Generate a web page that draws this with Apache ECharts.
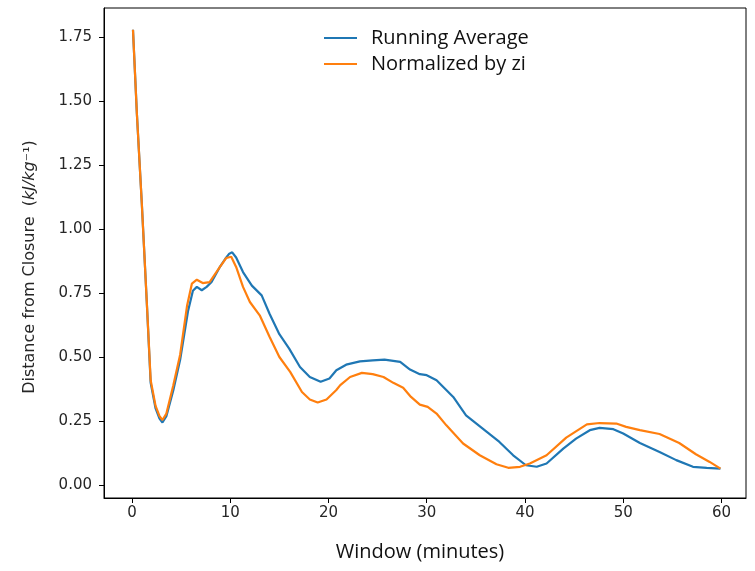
<!DOCTYPE html>
<html><head><meta charset="utf-8">
<script src="https://cdn.jsdelivr.net/npm/echarts@6/dist/echarts.min.js"></script>
<style>html,body{margin:0;padding:0;background:#fff}#c{width:755px;height:571px}</style>
</head><body><div id="c"></div>
<script>
const seriesNames = ['Running Average', 'Normalized by zi'];
const xTicks = [0, 10, 20, 30, 40, 50, 60];
const yTicks = [0, 0.25, 0.5, 0.75, 1.0, 1.25, 1.5, 1.75];

const runX = [0.1, 0.5, 1.0, 1.5, 1.9, 2.4, 2.8, 3.1, 3.5, 4.2, 4.9, 5.7, 6.2, 6.6, 7.1, 7.6, 8.1, 8.9, 9.5, 9.9, 10.2, 10.6, 11.3, 12.2, 13.2, 14.0, 15.0, 16.0, 17.1, 18.1, 19.2, 20.1, 20.8, 21.8, 23.2, 24.5, 25.7, 27.3, 28.3, 29.3, 30.0, 31.0, 32.7, 34.0, 35.7, 37.4, 38.8, 40.1, 41.2, 42.2, 43.9, 45.2, 46.6, 47.6, 49.0, 50.0, 51.7, 53.7, 55.4, 57.1, 58.5, 59.9];
const runY = [1.78, 1.45, 1.10, 0.72, 0.40, 0.30, 0.26, 0.245, 0.27, 0.37, 0.49, 0.68, 0.76, 0.775, 0.762, 0.775, 0.794, 0.85, 0.885, 0.905, 0.91, 0.89, 0.833, 0.78, 0.742, 0.67, 0.59, 0.534, 0.462, 0.423, 0.404, 0.417, 0.449, 0.471, 0.484, 0.488, 0.491, 0.482, 0.452, 0.434, 0.43, 0.41, 0.345, 0.273, 0.221, 0.169, 0.117, 0.078, 0.072, 0.085, 0.143, 0.182, 0.215, 0.224, 0.219, 0.202, 0.165, 0.13, 0.098, 0.072, 0.068, 0.065];

const normX = [0.1, 0.5, 1.0, 1.5, 1.9, 2.4, 2.8, 3.1, 3.5, 4.2, 4.9, 5.6, 6.1, 6.6, 7.2, 7.9, 8.9, 9.6, 10.1, 10.6, 11.3, 12.0, 13.0, 14.0, 15.0, 16.1, 17.3, 18.1, 18.9, 19.8, 20.8, 21.2, 22.2, 23.4, 24.5, 25.6, 26.6, 27.6, 28.4, 29.3, 30.1, 31.0, 32.0, 33.7, 35.4, 37.1, 38.3, 39.5, 40.5, 42.2, 44.2, 46.3, 47.6, 49.3, 50.3, 51.7, 53.7, 55.7, 57.4, 58.8, 59.9];
const normY = [1.78, 1.45, 1.10, 0.72, 0.41, 0.31, 0.27, 0.255, 0.28, 0.39, 0.51, 0.70, 0.788, 0.803, 0.79, 0.794, 0.85, 0.888, 0.893, 0.853, 0.775, 0.716, 0.664, 0.58, 0.501, 0.443, 0.364, 0.335, 0.323, 0.335, 0.372, 0.391, 0.423, 0.439, 0.434, 0.423, 0.40, 0.381, 0.345, 0.315, 0.306, 0.28, 0.234, 0.163, 0.117, 0.082, 0.068, 0.072, 0.085, 0.117, 0.186, 0.238, 0.243, 0.241, 0.228, 0.215, 0.2, 0.165, 0.121, 0.091, 0.065];

const zip = (xs, ys) => xs.map((x, i) => [x, ys[i]]);
const chart = echarts.init(document.getElementById('c'), null, {renderer: 'canvas'});
const tickFont = {fontFamily: 'DejaVu Sans', fontSize: 15, color: '#262626'};
chart.setOption({
  animation: false,
  backgroundColor: '#fff',
  grid: {left: 104, right: 9, top: 8, bottom: 73, show: true, borderColor: '#000', borderWidth: 1},
  legend: {
    orient: 'vertical', left: 319, top: 23, itemWidth: 33, itemHeight: 2, itemGap: 6,
    icon: 'rect',
    data: seriesNames,
    textStyle: {fontFamily: 'Open Sans', fontSize: 20, color: '#111', lineHeight: 20, padding: [0, 0, 0, 9]}
  },
  xAxis: {
    type: 'value', min: -2.85, max: 62.5,
    name: 'Window (minutes)', nameLocation: 'middle', nameGap: 44,
    nameTextStyle: {fontFamily: 'Open Sans', fontSize: 20, color: '#111', padding: [0, 10, 0, 0]},
    axisLine: {show: true, onZero: false, lineStyle: {color: '#000', width: 1}},
    axisTick: {show: true, length: 5, lineStyle: {color: '#000'}, customValues: xTicks},
    axisLabel: {...tickFont, margin: 8, customValues: xTicks, formatter: v => String(v)},
    splitLine: {show: false}
  },
  yAxis: {
    type: 'value', min: -0.05, max: 1.865,
    name: '{a|Distance from Closure  (}{i|kJ/kg}{a|⁻¹)}', nameLocation: 'middle', nameGap: 66,
    nameTextStyle: {padding: [0, 28, 0, 0], rich: {
      a: {fontFamily: 'DejaVu Sans', fontSize: 16, color: '#262626'},
      i: {fontFamily: 'DejaVu Sans', fontStyle: 'italic', fontSize: 16, color: '#262626'}
    }},
    axisLine: {show: true, onZero: false, lineStyle: {color: '#000', width: 1}},
    axisTick: {show: true, length: 5, lineStyle: {color: '#000'}, customValues: yTicks},
    axisLabel: {...tickFont, margin: 12, customValues: yTicks, formatter: v => v.toFixed(2)},
    splitLine: {show: false}
  },
  series: [
    {name: seriesNames[0], type: 'line', data: zip(runX, runY), symbol: 'none', color: '#1f77b4',
     lineStyle: {width: 2.2, color: '#1f77b4'}},
    {name: seriesNames[1], type: 'line', data: zip(normX, normY), symbol: 'none', color: '#ff7f0e',
     lineStyle: {width: 2.2, color: '#ff7f0e'}}
  ]
});
</script></body></html>
